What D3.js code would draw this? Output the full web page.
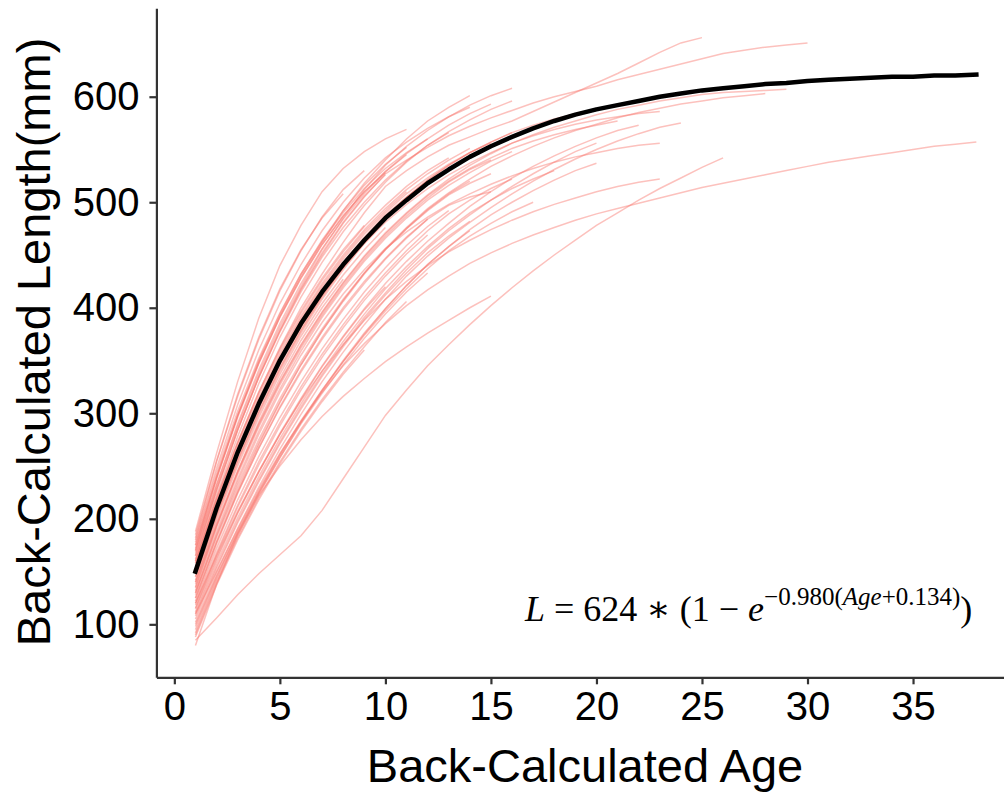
<!DOCTYPE html>
<html>
<head>
<meta charset="utf-8">
<script src="https://cdn.jsdelivr.net/npm/d3@7"></script>
<style>
  html, body { margin: 0; padding: 0; background: #fff; }
  svg { display: block; }
</style>
</head>
<body>
<svg id="chart" width="1004" height="795"></svg>
<script>
// ---------------- DATA ----------------
const xTicks = [0, 5, 10, 15, 20, 25, 30, 35];
const yTicks = [100, 200, 300, 400, 500, 600];

// mean back-calculated length by age (black curve), ages 1..38
const meanAges = d3.range(1, 39);
const meanLengths = [150, 210, 263, 309, 350, 385, 415, 441, 464, 485, 502, 518, 531, 543, 553,
  562, 570, 577, 583, 588, 592, 596, 600, 603, 606, 608, 610, 612, 613, 615,
  616, 617, 618, 619, 619, 620, 620, 621];

// individual fish back-calculated lengths, starting at age 1
const fishLengths = [
  [188,262,330,390,440,478,510,532,548,560,569],
  [175,240,298,348,392,430,462,492,518,540,560,577,590,601],
  [170,232,288,338,382,420,455,485,512,535,553,568,581,592,601,608],
  [158,218,272,320,362,400,432,462,490,515,530,543,554,562,570,577,586,595,604,613,622,632,642,651,656],
  [165,228,284,334,378,417,450,480,505,527,540,552,563,572,580,587,594,600,605,610,616,621,626,631,636,641,644,647,649,651],
  [110,150,190,228,262,292,320,345,366,385,402,417,430,442,452,461,469,476,483,489,494,499,504,509,514,518,522,526,530,534,538,541,544,547,550,553,555,557],
  [85,106,128,148,166,184,208,238,268,298,322,345,365,384,402,419,435,450,464,478,490,502,513,523,533,542],
  [150,210,262,308,348,382,412,438,461,481,498,513,526,537,547,556,563,569,574,578,581,584,586],
  [130,185,235,280,320,355,386,413,436,456,472,486,498,508,517,525,532,538,543,547,551,554,556],
  [120,165,207,245,280,312,340,365,388,408,425,440,453,464,474,483,491,498,504,510,515,519,522],
  [140,195,245,290,330,365,396,424,449,471,490,507,522,535,546,556,564,571,577,583,588,592,596,599,602,604,605,606,607],
  [125,178,226,270,310,346,378,407,433,456,476,494,509,522,534,544,553,561,568,574,580,585,589,593,596,599,601,603],
  [145,203,255,301,342,378,410,438,463,485,504,521,535,547,557,566,573,579,584,588],
  [138,194,244,289,329,364,395,423,448,470,489,506,520,532,542,551,558,564,569,573,577],
  [180,248,308,360,404,441,473,500,523,542,557,570,581,590],
  [178,244,302,352,395,432,463,490,513,532,547,560],
  [172,238,296,347,391,428,460,487,510,528],
  [168,232,290,341,385,423,456,484,508,529,546,560,573,584,593],
  [182,254,316,370,416,454,486,512,530],
  [165,228,285,334,377,415,448,476,500,521,539,554,566],
  [160,222,278,328,372,410,443,472,497,519,538,554,567,578,588,596],
  [175,240,298,348,391,428,460,487,510,529,545],
  [185,255,318,372,418,455,485,508],
  [155,215,268,315,356,392,423,450,474,494,512,527,540,551],
  [150,210,262,308,349,385,416,443,467,488,505,520],
  [152,212,265,311,352,388,419,446,470,490,508,523,536,547,556],
  [148,207,259,305,346,382,413,440,464,484],
  [158,218,271,318,359,395,426,453,477,497,515,530,542],
  [145,204,256,302,343,379,411,439,464,486,505,521,535,547,557,566],
  [160,220,273,320,361,397,428,455,478],
  [153,213,266,313,354,390,421,448,472,492,510],
  [135,192,242,287,327,362,393,421,446,468,487,504,519,531,540],
  [130,184,232,275,314,349,380,408,433,455,475,492,507,518,527],
  [125,178,225,267,305,339,370,398,423,446,466,484,497,505,510],
  [128,182,229,272,311,346,378,406,432,455,475,493,508,520],
  [120,172,218,259,296,330,361,389,415,438,459,477,492],
  [115,166,211,251,288,322,353,381,407,430,451,469],
  [118,168,213,254,291,325,356,384,410,433,454,473,489,502,513,522],
  [112,161,205,244,280,313,344,372,398,420],
  [110,158,201,240,276,309,340,368,394,418,439,458,475,490,502,513,522,530],
  [105,153,196,235,271,304,335,363,389,412,433,452,468,482],
  [100,146,187,225,260,292,322,350,376,399,421,441,458,474,488,500,511,521,530,537],
  [95,143,186,224,258,290,319,346,371,394,415,433],
  [98,145,188,226,261,293,322,349,374,397,418,437,454,468,480,491,500],
  [90,139,182,220,254,285,313,339,363,386,406],
  [88,137,180,218,252,283,311,337,360],
  [80,138,185,222,250,275,297,316,333,349,363,376,388,400,411],
  [108,155,198,237,273,306,337,365,391,414,436,456,473,488,502,515,527,538,548,556],
  [102,149,191,230,266,299,330,358,384,408,430,449,466,481,495,508,520,531,541,550,558,565,571,575],
  [115,163,206,245,281,314,345,373,399,423,444,463,480,496,510,523,534,544,553,561,568,573],
  [170,238,298,350,394,432,464,492,516,536,552],
  [162,226,284,335,379,418,452,481,506,526],
  [142,201,253,299,340,376,408,436,461,483,501,516],
  [132,188,238,283,323,359,391,419,444,466,485,502,516,528,539,548],
  [92,141,184,223,258,291,321,349,375,399,421,441,458,473],
  [140,198,250,296,337,373,404,431,455,476],
  [135,193,245,292,333,369,400,427],
  [122,176,224,267,306,341,372,400,425,447,467,484]
];

// ---------------- LAYOUT ----------------
const svg = d3.select("#chart");
const x = d3.scaleLinear().domain([-0.85, 39.85]).range([156.4, 1015.4]);
const y = d3.scaleLinear().domain([49.8, 683.8]).range([677.3, 8.3]);

const line = d3.line().x(d => x(d[0])).y(d => y(d[1]));

// red individual lines
svg.append("g")
  .selectAll("path")
  .data(fishLengths)
  .join("path")
  .attr("d", arr => line(arr.map((v, i) => [i + 1, v])))
  .attr("fill", "none")
  .attr("stroke", "#F8766D")
  .attr("stroke-opacity", 0.45)
  .attr("stroke-width", 1.5);

// black mean curve
svg.append("path")
  .attr("d", line(meanAges.map((a, i) => [a, meanLengths[i]])))
  .attr("fill", "none")
  .attr("stroke", "#000")
  .attr("stroke-width", 4.5)
  .attr("stroke-linejoin", "round")
  .attr("stroke-linecap", "square");

// axes
const axisColor = "#333333";
const xAxis = svg.append("g")
  .attr("transform", `translate(0,${y.range()[0]})`)
  .call(d3.axisBottom(x).tickValues(xTicks).tickSize(7).tickSizeOuter(0).tickPadding(7));
const yAxis = svg.append("g")
  .attr("transform", `translate(${x.range()[0]},0)`)
  .call(d3.axisLeft(y).tickValues(yTicks).tickSize(7).tickSizeOuter(0).tickPadding(10));

[xAxis, yAxis].forEach(g => {
  g.select(".domain").attr("stroke", axisColor).attr("stroke-width", 2.2);
  g.selectAll(".tick line").attr("stroke", axisColor).attr("stroke-width", 2.2);
  g.selectAll(".tick text")
    .attr("fill", "#000")
    .style("font-family", "Liberation Sans, Arial, sans-serif")
    .style("font-size", "40px");
});

// axis titles
svg.append("text")
  .attr("x", 585).attr("y", 782)
  .attr("text-anchor", "middle")
  .style("font-family", "Liberation Sans, Arial, sans-serif")
  .style("font-size", "47px")
  .text("Back-Calculated Age");

svg.append("text")
  .attr("transform", "translate(50,342) rotate(-90)")
  .attr("text-anchor", "middle")
  .style("font-family", "Liberation Sans, Arial, sans-serif")
  .style("font-size", "47px")
  .text("Back-Calculated Length(mm)");

// equation
const eq = svg.append("text")
  .attr("x", 525).attr("y", 621)
  .style("font-family", "Liberation Serif, DejaVu Serif, serif")
  .style("font-size", "36px");
eq.append("tspan").style("font-style", "italic").text("L");
eq.append("tspan").text(" = 624 \u2217 (1 \u2212 ");
eq.append("tspan").style("font-style", "italic").text("e");
eq.append("tspan").attr("dy", -16).style("font-size", "25px").text("\u22120.980(");
eq.append("tspan").style("font-size", "25px").style("font-style", "italic").text("Age");
eq.append("tspan").style("font-size", "25px").text("+0.134)");
eq.append("tspan").attr("dy", 16).text(")");
</script>
</body>
</html>
